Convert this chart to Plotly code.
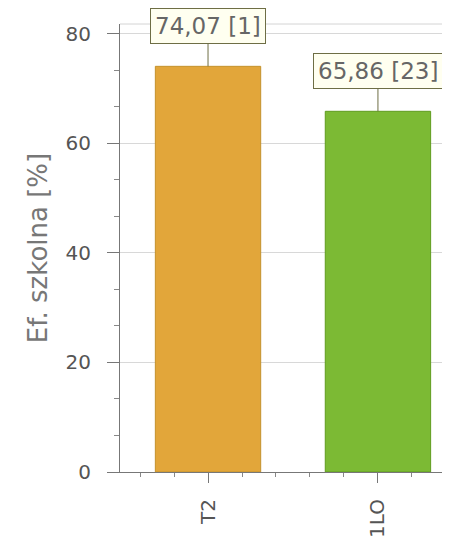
import plotly.graph_objects as go

categories = ["T2", "1LO"]
values = [74.07, 65.86]
ranks = [1, 23]
bar_colors = ["#e2a63a", "#7cba34"]
bar_line_colors = ["#c4922c", "#5f9c1e"]

y_title = "Ef. szkolna [%]"
y_tickvals = [0, 20, 40, 60, 80]

x_pos = list(range(len(categories)))

fig = go.Figure()
fig.add_trace(go.Bar(
    x=x_pos, y=values, width=0.62,
    marker=dict(color=bar_colors, line=dict(color=bar_line_colors, width=1)),
    showlegend=False, hoverinfo="skip",
))

for xi, v, r in zip(x_pos, values, ranks):
    label = f"{v:.2f}".replace(".", ",") + f" [{r}]"
    fig.add_annotation(
        x=xi, y=v, xref="x", yref="y", text=label,
        showarrow=True, arrowhead=0, arrowwidth=1, arrowcolor="#6e6e45",
        ax=0, ay=-40,
        bgcolor="#fffff0", bordercolor="#6e6e45", borderwidth=1, borderpad=4,
        font=dict(family="DejaVu Sans", size=23, color="#666666"),
    )

fig.add_shape(type="line", xref="paper", yref="paper", x0=0, x1=1, y0=1, y1=1,
              line=dict(color="#d4d4d4", width=1), layer="below")

axis_font = dict(family="DejaVu Sans", size=20, color="#555555")

fig.update_layout(
    width=442, height=531,
    margin=dict(l=112, r=0, t=16, b=67, autoexpand=False),
    paper_bgcolor="white", plot_bgcolor="white",
    xaxis=dict(
        range=[-0.518, 1.424],
        tickmode="array", tickvals=x_pos, ticktext=categories,
        tickangle=-90, tickfont=axis_font,
        ticks="outside", ticklen=10, tickcolor="#777777", tickwidth=1,
        showline=True, linecolor="#777777", linewidth=1,
        showgrid=False, zeroline=False,
        minor=dict(tickmode="linear", tick0=0, dtick=0.2, ticks="outside",
                   ticklen=4, tickcolor="#888888", showgrid=False),
        ticklabelstandoff=8,
        automargin=False,
    ),
    yaxis=dict(
        range=[0, 81.8],
        tickmode="array", tickvals=y_tickvals,
        tickfont=axis_font,
        ticks="outside", ticklen=12, tickcolor="#777777", tickwidth=1,
        showline=True, linecolor="#777777", linewidth=1,
        showgrid=True, gridcolor="#d8d8d8", gridwidth=1,
        zeroline=False,
        minor=dict(tickmode="linear", tick0=0, dtick=20/3, ticks="outside",
                   ticklen=5, tickcolor="#888888", showgrid=False),
        title=dict(text=y_title, font=dict(family="DejaVu Sans", size=26, color="#777777"),
                   standoff=10),
        ticklabelstandoff=12,
        automargin=False,
    ),
)

fig.write_html("out.html")
